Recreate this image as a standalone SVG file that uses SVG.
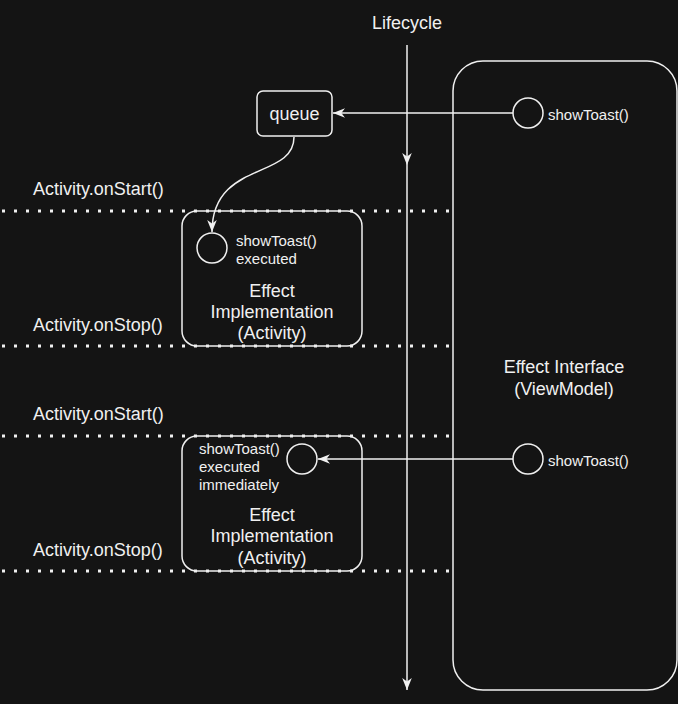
<svg xmlns="http://www.w3.org/2000/svg" width="678" height="704" viewBox="0 0 678 704">
<defs>
<style>
text{font-family:"Liberation Sans",Arial,sans-serif;fill:#f0f0f0}
.l{font-size:18px}
.s{font-size:15px}
.m{text-anchor:middle}
.box{fill:none;stroke:#f0f0f0;stroke-width:1.5}
.ln{fill:none;stroke:#f0f0f0;stroke-width:1.5}
.dot{fill:none;stroke:#f0f0f0;stroke-width:3;stroke-dasharray:3 9}
</style>
<marker id="ah" markerUnits="userSpaceOnUse" viewBox="0 0 10 10" markerWidth="12" markerHeight="12" refX="10" refY="5" orient="auto">
<path d="M0,1 L10,5 L0,9 L3,5 Z" fill="#f0f0f0"/>
</marker>
</defs>
<rect width="678" height="704" fill="#141414"/>
<g id="lanes">
<line class="dot" x1="2" y1="211" x2="452" y2="211"/>
<line class="dot" x1="2" y1="346" x2="452" y2="346"/>
<line class="dot" x1="2" y1="436" x2="452" y2="436"/>
<line class="dot" x1="2" y1="571" x2="452" y2="571"/>
<text class="l" x="33" y="195">Activity.onStart()</text>
<text class="l" x="33" y="331">Activity.onStop()</text>
<text class="l" x="33" y="420">Activity.onStart()</text>
<text class="l" x="33" y="556">Activity.onStop()</text>
</g>
<g id="viewmodel">
<rect class="box" x="453" y="61" width="224" height="629" rx="30"/>
<text class="l m" x="564" y="373">Effect Interface</text>
<text class="l m" x="564" y="395">(ViewModel)</text>
</g>
<g id="vm-toast1">
<circle class="box" cx="528" cy="113" r="15"/>
<text class="s" x="548" y="120">showToast()</text>
</g>
<g id="vm-toast2">
<circle class="box" cx="528" cy="459" r="15"/>
<text class="s" x="548" y="466">showToast()</text>
</g>
<g id="queue">
<rect class="box" x="257" y="91" width="75" height="45" rx="6"/>
<text class="l m" x="294.5" y="120">queue</text>
</g>
<g id="activity1">
<rect class="box" x="182" y="211" width="180" height="135" rx="15"/>
<circle class="box" cx="212" cy="248" r="15"/>
<text class="s" x="236" y="246">showToast()</text>
<text class="s" x="236" y="264">executed</text>
<text class="l m" x="272" y="297">Effect</text>
<text class="l m" x="272" y="318">Implementation</text>
<text class="l m" x="272" y="339">(Activity)</text>
</g>
<g id="activity2">
<rect class="box" x="182" y="436" width="180" height="135" rx="15"/>
<circle class="box" cx="302" cy="459" r="15"/>
<text class="s" x="199" y="454">showToast()</text>
<text class="s" x="199" y="472">executed</text>
<text class="s" x="199" y="490">immediately</text>
<text class="l m" x="272" y="521">Effect</text>
<text class="l m" x="272" y="542">Implementation</text>
<text class="l m" x="272" y="564">(Activity)</text>
</g>
<g id="lifecycle">
<text class="l m" x="407" y="29">Lifecycle</text>
</g>
<g id="connectors">
<line class="ln" x1="407" y1="45" x2="407" y2="165" marker-end="url(#ah)"/>
<line class="ln" x1="407" y1="165" x2="407" y2="690" marker-end="url(#ah)"/>
<line class="ln" x1="513" y1="113" x2="333" y2="113" marker-end="url(#ah)"/>
<line class="ln" x1="513" y1="459" x2="318" y2="459" marker-end="url(#ah)"/>
<path class="ln" d="M294,137 C294,180 212,160 212,232" marker-end="url(#ah)"/>
</g>
</svg>
